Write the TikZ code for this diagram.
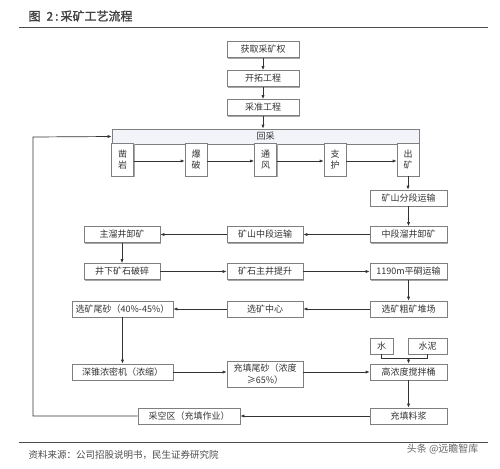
\documentclass[tikz,border=0pt]{standalone}
\usepackage{fontspec}
\setmainfont{Noto Sans CJK SC}
\newfontfamily\titlefont[FakeBold=1.5]{Noto Sans CJK SC}
\usetikzlibrary{arrows.meta,shadows}

\definecolor{boxline}{HTML}{7F7F7F}
\definecolor{boxtext}{HTML}{333333}
\definecolor{headfill}{HTML}{F3F4FA}

\tikzset{
  flowbox/.style={draw=boxline, line width=0.7pt, fill=white, text=boxtext,
    font=\fontsize{9}{10}\selectfont, inner sep=1pt, minimum height=16pt,
    drop shadow={shadow xshift=1.2pt, shadow yshift=-1.2pt, fill=black!35, opacity=1}},
  stepbox/.style={flowbox, minimum width=22pt, minimum height=33pt, align=center,
    font=\fontsize{9}{11}\selectfont},
  arr/.style={-{Latex[length=4pt,width=3.2pt]}, line width=0.7pt, draw=black!80},
  ln/.style={line width=0.7pt, draw=black!80}
}

\begin{document}
\begin{tikzpicture}[x=1pt,y=-1pt]
\useasboundingbox (0,0) rectangle (500,468);

% Title and rules
\node[anchor=west, text=black!75, font=\titlefont\fontsize{12}{14}\selectfont] (title) at (25,16) {图\enspace 2\,:\,采矿工艺流程};
\draw[line width=1pt, black!70] (19,28) -- (488,28);
\draw[line width=1pt, black!70] (19,442) -- (488,442);
\node[anchor=west, text=black!70, font=\fontsize{9.5}{11}\selectfont] (source) at (25,455) {资料来源：公司招股说明书，民生证券研究院};
\node[anchor=east, text=black!60, font=\fontsize{10}{12}\selectfont] (mark) at (482,449) {头条 @远瞻智库};

% Preparation
\node[flowbox, minimum width=72pt] (right) at (263,49.5) {获取采矿权};
\node[flowbox, minimum width=72pt] (devel) at (263,78.5) {开拓工程};
\node[flowbox, minimum width=72pt] (prep) at (263,107.5) {采准工程};

% Stoping
\node[draw=boxline, line width=0.7pt, fill=headfill, text=boxtext, minimum width=307pt,
  minimum height=15pt, inner sep=0pt, font=\fontsize{9}{10}\selectfont] (stope) at (265.5,136.5) {回采};
\node[stepbox] (drill) at (122.5,159.5) {凿\\岩};
\node[stepbox] (blast) at (196,159.5) {爆\\破};
\node[stepbox] (vent) at (265.5,159.5) {通\\风};
\node[stepbox] (support) at (335,159.5) {支\\护};
\node[stepbox] (mucking) at (408,159.5) {出\\矿};

% Haulage and hoisting
\node[flowbox, minimum width=77pt] (subhaul) at (408.5,198) {矿山分段运输};
\node[flowbox, minimum width=77pt] (passdump) at (408.5,234.5) {中段溜井卸矿};
\node[flowbox, minimum width=76pt] (levelhaul) at (265,234.5) {矿山中段运输};
\node[flowbox, minimum width=76pt] (mainpass) at (122,234.5) {主溜井卸矿};
\node[flowbox, minimum width=76pt] (crush) at (122,271.5) {井下矿石破碎};
\node[flowbox, minimum width=76pt] (hoist) at (265,271.5) {矿石主井提升};
\node[flowbox, minimum width=77pt] (adit) at (408.5,271.5) {1190m平硐运输};

% Processing
\node[flowbox, minimum width=77pt] (stockpile) at (408.5,309) {选矿粗矿堆场};
\node[flowbox, minimum width=76pt] (mill) at (265,309) {选矿中心};
\node[flowbox, minimum width=101pt] (tailings) at (122.5,309) {选矿尾砂（40\%-45\%）};

% Backfill
\node[flowbox, minimum width=23pt] (water) at (381.5,346) {水};
\node[flowbox, minimum width=39pt] (cement) at (427.5,346) {水泥};
\node[flowbox, minimum width=101pt] (thicken) at (122.5,372) {深锥浓密机（浓缩）};
\node[flowbox, minimum width=76pt, minimum height=26pt, align=center,
  font=\fontsize{9}{11.5}\selectfont] (filltail) at (265,374) {充填尾砂（浓度\\≥65\%）};
\node[flowbox, minimum width=77pt] (mixer) at (408.5,372) {高浓度搅拌桶};
\node[flowbox, minimum width=77pt] (slurry) at (408.5,416) {充填料浆};
\node[flowbox, minimum width=102pt] (goaf) at (189,416) {采空区（充填作业）};

\coordinate (merge) at (408.5,358);
\coordinate (loop) at (33,137);

% Connectors
\draw[arr] (right) -- (devel);
\draw[arr] (devel) -- (prep);
\draw[arr] (prep.south) -- (prep.south |- stope.north);
\draw[arr] (drill.east |- 0,161) -- (blast.west |- 0,161);
\draw[arr] (blast.east |- 0,161) -- (vent.west |- 0,161);
\draw[arr] (vent.east |- 0,161) -- (support.west |- 0,161);
\draw[arr] (support.east |- 0,161) -- (mucking.west |- 0,161);
\draw[arr] (mucking) -- (mucking |- subhaul.north);
\draw[arr] (subhaul) -- (passdump);
\draw[arr] (passdump) -- (levelhaul);
\draw[arr] (levelhaul) -- (mainpass);
\draw[arr] (mainpass) -- (crush);
\draw[arr] (crush) -- (hoist);
\draw[arr] (hoist) -- (adit);
\draw[arr] (adit) -- (stockpile);
\draw[arr] (stockpile) -- (mill);
\draw[arr] (mill) -- (tailings);
\draw[arr] (tailings) -- (tailings |- thicken.north);
\draw[arr] (thicken) -- (filltail.west |- thicken);
\draw[arr] (filltail.east |- mixer) -- (mixer);
\draw[ln] (water.south) -- (water.south |- merge) -- (cement.south |- merge) -- (cement.south);
\draw[arr] (merge) -- (mixer.north);
\draw[arr] (mixer) -- (slurry);
\draw[arr] (slurry) -- (goaf);
\draw[arr] (goaf.west) -| (loop) -- (stope.west);

\end{tikzpicture}
\end{document}
